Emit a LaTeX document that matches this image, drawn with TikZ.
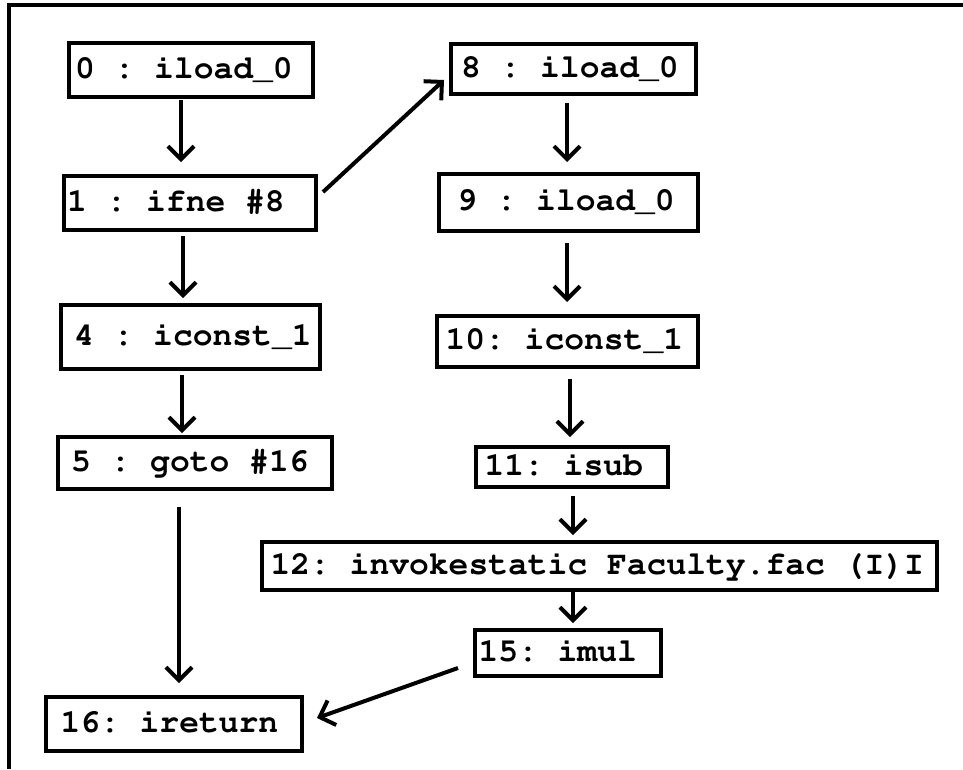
\documentclass[tikz,border=0pt]{standalone}
\usepackage[T1]{fontenc}
\usetikzlibrary{arrows.meta}
\newcommand{\boxtext}[3]{\makebox[#1pt][l]{\hspace*{#2pt}#3}}
\begin{document}
\begin{tikzpicture}[x=1pt,y=-1pt,
  bx/.style={draw, line width=4pt, outer sep=0pt, inner xsep=0pt, inner ysep=0pt,
    anchor=north west, text height=22pt, text depth=6pt,
    font=\fontencoding{T1}\fontfamily{pcr}\fontseries{b}\fontsize{33}{33}\selectfont\frenchspacing},
  arr/.style={line width=4pt, -{Straight Barb[length=13pt,width=26pt]}}]
\useasboundingbox (0,0) rectangle (963,769);
\draw[line width=4pt] (9,769) -- (9,4.5) -- (963,4.5);
% left column
\node[bx, minimum width=244pt, minimum height=54pt] (n0) at (69,43) {\boxtext{244}{6}{0 : iload\_0}};
\node[bx, minimum width=252pt, minimum height=54pt] (n1) at (64,176) {\boxtext{252}{3}{1 : ifne \#8}};
\node[bx, minimum width=259pt, minimum height=64pt] (n4) at (61,305) {\boxtext{259}{13}{4 : iconst\_1}};
\node[bx, minimum width=274pt, minimum height=52pt] (n5) at (58,437) {\boxtext{274}{13}{5 : goto \#16}};
\node[bx, minimum width=256pt, minimum height=54pt] (n16) at (46,697) {\boxtext{256}{14.5}{16: ireturn}};
% right column
\node[bx, minimum width=245pt, minimum height=50pt] (n8) at (451,44) {\boxtext{245}{10}{8 : iload\_0}};
\node[bx, minimum width=259pt, minimum height=57pt] (n9) at (439,174) {\boxtext{259}{18}{9 : iload\_0}};
\node[bx, minimum width=261pt, minimum height=51pt] (n10) at (437,316) {\boxtext{261}{8.5}{10: iconst\_1}};
\node[bx, minimum width=192pt, minimum height=40pt] (n11) at (476,447) {\boxtext{192}{8.5}{11: isub}};
\node[bx, minimum width=675pt, minimum height=48pt] (n12) at (262,542) {\boxtext{675}{8.5}{12: invokestatic Faculty.fac (I)I}};
\node[bx, minimum width=186pt, minimum height=46pt] (n15) at (475,630) {\boxtext{186}{3.5}{15: imul}};
% connectors
\draw[arr, shorten <=3pt, shorten >=14pt] ([shift={(-10,0)}]n0.south) -- ([shift={(-9,0)}]n1.north);
\draw[arr, shorten <=6pt, shorten >=7pt] ([shift={(-7,0)}]n1.south) -- ([shift={(-7.5,0)}]n4.north);
\draw[arr, shorten <=6pt, shorten >=4pt] ([shift={(-8.5,0)}]n4.south) -- ([shift={(-13,0)}]n5.north);
\draw[arr, shorten <=18pt, shorten >=14pt] ([shift={(-16,0)}]n5.south) -- ([shift={(5,0)}]n16.north);
\draw[arr] ([shift={(7,-11)}]n1.east) -- ([shift={(-7,11)}]n8.west);
\draw[arr, shorten <=9pt, shorten >=12pt] ([shift={(-6.5,0)}]n8.south) -- ([shift={(-1.5,0)}]n9.north);
\draw[arr, shorten <=12pt, shorten >=14pt] ([shift={(-1.5,0)}]n9.south) -- ([shift={(-0.5,0)}]n10.north);
\draw[arr, shorten <=12pt, shorten >=10pt] ([shift={(2.5,0)}]n10.south) -- ([shift={(-2,0)}]n11.north);
\draw[arr, shorten <=9pt, shorten >=7pt] ([shift={(1,0)}]n11.south) -- ([shift={(-26.5,0)}]n12.north);
\draw[arr, shorten <=2pt, shorten >=7pt] ([shift={(-26.5,0)}]n12.south) -- ([shift={(5,0)}]n15.north);
\draw[arr] ([shift={(-17,15)}]n15.west) -- ([shift={(15,-6)}]n16.east);
\end{tikzpicture}
\end{document}
